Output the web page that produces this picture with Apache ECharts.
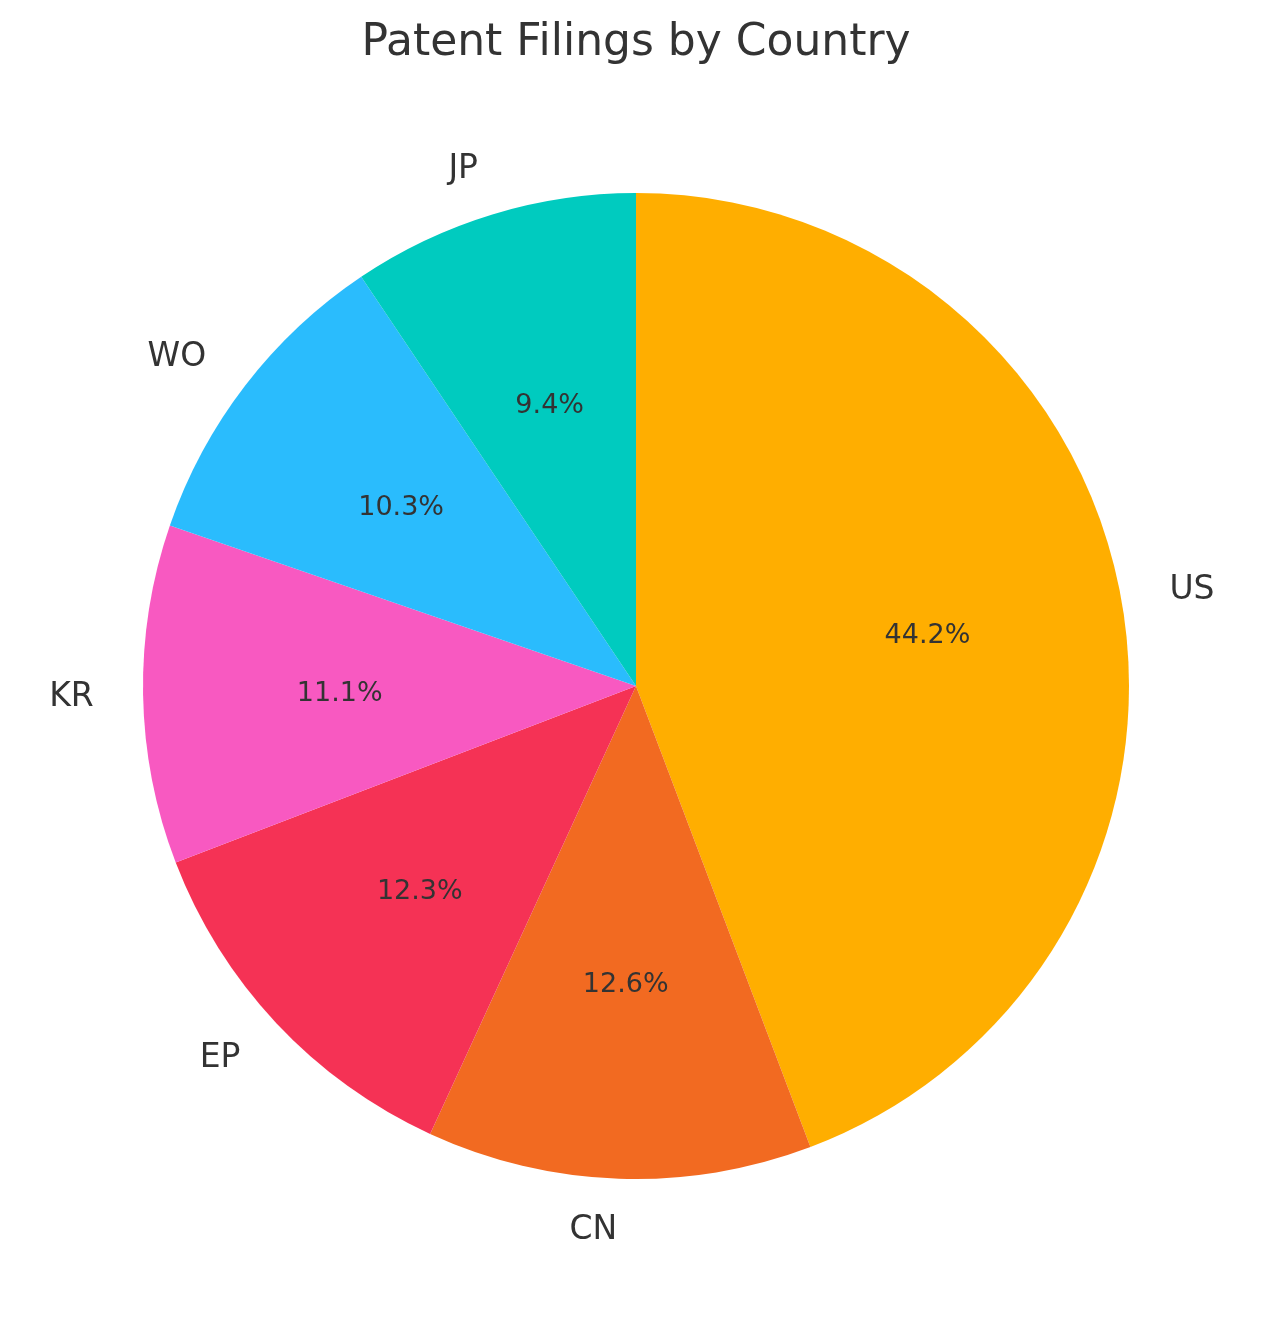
<!DOCTYPE html>
<html>
<head>
<meta charset="utf-8">
<script src="https://cdn.jsdelivr.net/npm/echarts@6/dist/echarts.min.js"></script>
<style>
  html, body { margin: 0; padding: 0; background: #fff; }
  #chart { width: 1272px; height: 1322px; }
</style>
</head>
<body>
<div id="chart"></div>
<script>
// data
const countries = ["US", "CN", "EP", "KR", "WO", "JP"];
const shares = [44.2, 12.6, 12.3, 11.1, 10.3, 9.4];
const colors = ["#FFAE00", "#F26A21", "#F53255", "#F859C1", "#2ABCFD", "#00CBBF"];

const R = 493;
const textColor = "#333333";
const font = "DejaVu Sans";

const chart = echarts.init(document.getElementById("chart"));

const pieData = countries.map((c, i) => ({
  name: c,
  value: shares[i],
  itemStyle: { color: colors[i] },
}));

const option = {
  backgroundColor: "#fff",
  animation: false,
  title: {
    text: "Patent Filings by Country",
    left: "center",
    top: 17,
    textStyle: {
      fontFamily: font,
      fontSize: 44,
      fontWeight: "normal",
      color: textColor,
    },
  },
  series: [
    {
      // main pie with the country names outside
      type: "pie",
      center: [636, 686],
      radius: [0, R],
      startAngle: 90,
      clockwise: true,
      avoidLabelOverlap: false,
      silent: true,
      data: pieData,
      label: {
        show: true,
        position: "outside",
        alignTo: "none",
        distanceToLabelLine: 0,
        formatter: "{b}",
        fontFamily: font,
        fontSize: 33,
        color: textColor,
        offset: [0, 2],
      },
      labelLine: { show: false, length: R * 0.1, length2: 0 },
      emphasis: { disabled: true },
    },
    {
      // transparent copy, only used to put the percentages at ~0.6 R
      type: "pie",
      center: [636, 686],
      radius: [0, R * 1.19],
      startAngle: 90,
      clockwise: true,
      silent: true,
      avoidLabelOverlap: false,
      data: countries.map((c, i) => ({ name: c, value: shares[i] })),
      itemStyle: { color: "rgba(0,0,0,0)" },
      label: {
        show: true,
        position: "inside",
        formatter: (p) => p.value.toFixed(1) + "%",
        fontFamily: font,
        fontSize: 27,
        color: textColor,
        offset: [0, 3],
      },
      labelLine: { show: false },
      emphasis: { disabled: true },
    },
  ],
};

chart.setOption(option);
</script>
</body>
</html>
